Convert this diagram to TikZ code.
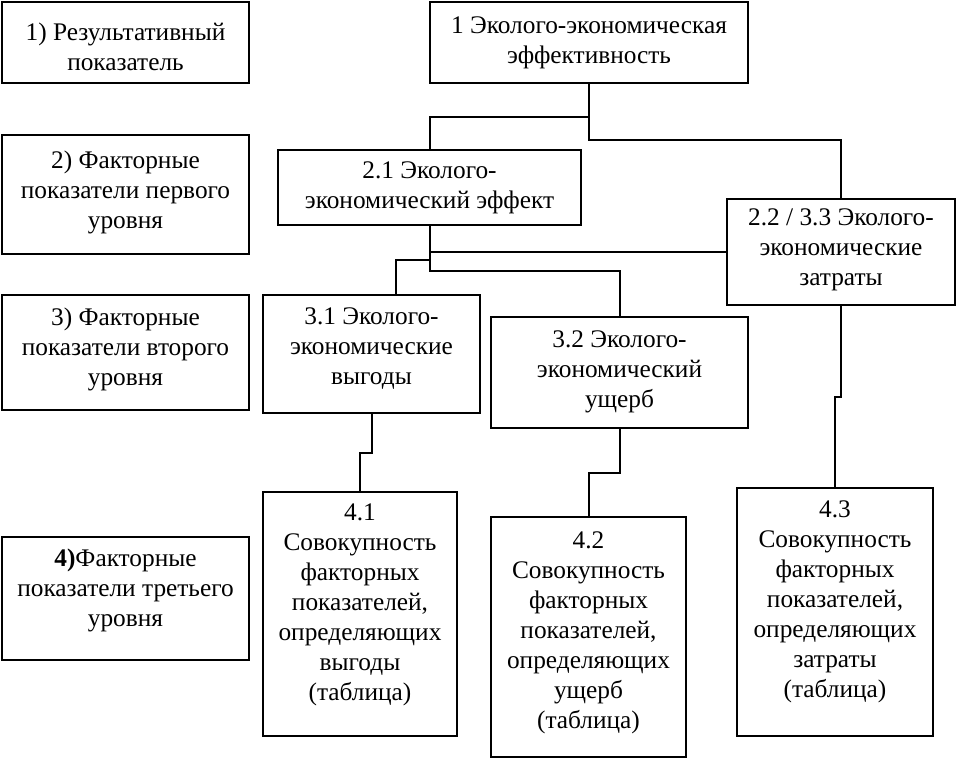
\documentclass[tikz,border=0pt]{standalone}
\usepackage{fontspec}
\setmainfont{Liberation Serif}
\usetikzlibrary{calc}
\tikzset{
  bx/.style 2 args={draw, rectangle, inner sep=0pt, outer sep=0pt,
    minimum width=#1*0.75pt, minimum height=#2*0.75pt},
  lbox/.style={line width=1.5pt},
  mbox/.style={line width=1.1pt},
  txt/.style={align=center, inner sep=0pt, font=\fontsize{19}{22.5}\selectfont},
  conn/.style={line width=1.5pt}
}
\begin{document}
\begin{tikzpicture}[x=0.75pt, y=-0.75pt]
\useasboundingbox (0,0) rectangle (956,759);
% left column
\node[bx={247}{81}, lbox] (l1) at (125.5,42.5) {};
\node[txt] (tl1) at (125.5,47) {1) Результативный\\показатель};
\node[bx={247}{119}, lbox] (l2) at (125.5,194.5) {};
\node[txt] (tl2) at (125.5,192) {2) Факторные\\показатели первого\\уровня};
\node[bx={247}{115}, lbox] (l3) at (125.5,352.5) {};
\node[txt] (tl3) at (125.5,349) {3) Факторные\\показатели второго\\уровня};
\node[bx={247}{123}, lbox] (l4) at (125.5,598.5) {};
\node[txt] (tl4) at (125.5,590) {\textbf{4)}Факторные\\показатели третьего\\уровня};
% main boxes
\node[bx={318}{81}, lbox] (b1) at (589,42.5) {};
\node[txt] (tb1) at (589,43) {1 Эколого-экономическая\\эффективность};
\node[bx={303}{75}, mbox] (b21) at (429.5,187.5) {};
\node[txt] (tb21) at (429.5,188) {2.1 Эколого-\\экономический эффект};
\node[bx={228}{106}, mbox] (b22) at (841,252) {};
\node[txt] (tb22) at (841,250) {2.2 / 3.3 Эколого-\\экономические\\затраты};
\node[bx={217}{118}, mbox] (b31) at (371.5,354) {};
\node[txt] (tb31) at (371.5,348.5) {3.1 Эколого-\\экономические\\выгоды};
\node[bx={257}{111}, mbox] (b32) at (619.5,372.5) {};
\node[txt] (tb32) at (619.5,372) {3.2 Эколого-\\экономический\\ущерб};
\node[bx={194}{244}, mbox] (b41) at (360,614) {};
\node[txt] (tb41) at (360,605) {4.1\\Совокупность\\факторных\\показателей,\\определяющих\\выгоды\\(таблица)};
\node[bx={195}{240}, mbox] (b42) at (588.5,637) {};
\node[txt] (tb42) at (588.5,633) {4.2\\Совокупность\\факторных\\показателей,\\определяющих\\ущерб\\(таблица)};
\node[bx={196}{248}, mbox] (b43) at (835,612) {};
\node[txt] (tb43) at (835,602) {4.3\\Совокупность\\факторных\\показателей,\\определяющих\\затраты\\(таблица)};
% junction coordinates
\coordinate (j1) at (b1.south |- 0,140);
\coordinate (j2) at (b1.south |- 0,117);
\coordinate (j3) at (b21.south |- 0,271);
\coordinate (j4) at (b21.south |- b22.west);
\coordinate (j5) at (b21.south |- 0,260);
\coordinate (t31) at ($(b31.north)+(24.5,0)$);
\coordinate (j6) at (b31.south |- 0,453);
\coordinate (j7) at (b32.south |- 0,473);
\coordinate (j8) at (b22.south |- 0,397);
% connectors
\draw[conn] (b1.south) -- (j1) -| (b22.north);
\draw[conn] (j2) -| (b21.north);
\draw[conn] (b21.south) -- (j3) -| (b32.north);
\draw[conn] (j4) -- (b22.west);
\draw[conn] (j5) -| (t31);
\draw[conn] (b31.south) -- (j6) -| (b41.north);
\draw[conn] (b32.south) -- (j7) -| (b42.north);
\draw[conn] (b22.south) -- (j8) -| (b43.north);
\end{tikzpicture}
\end{document}
